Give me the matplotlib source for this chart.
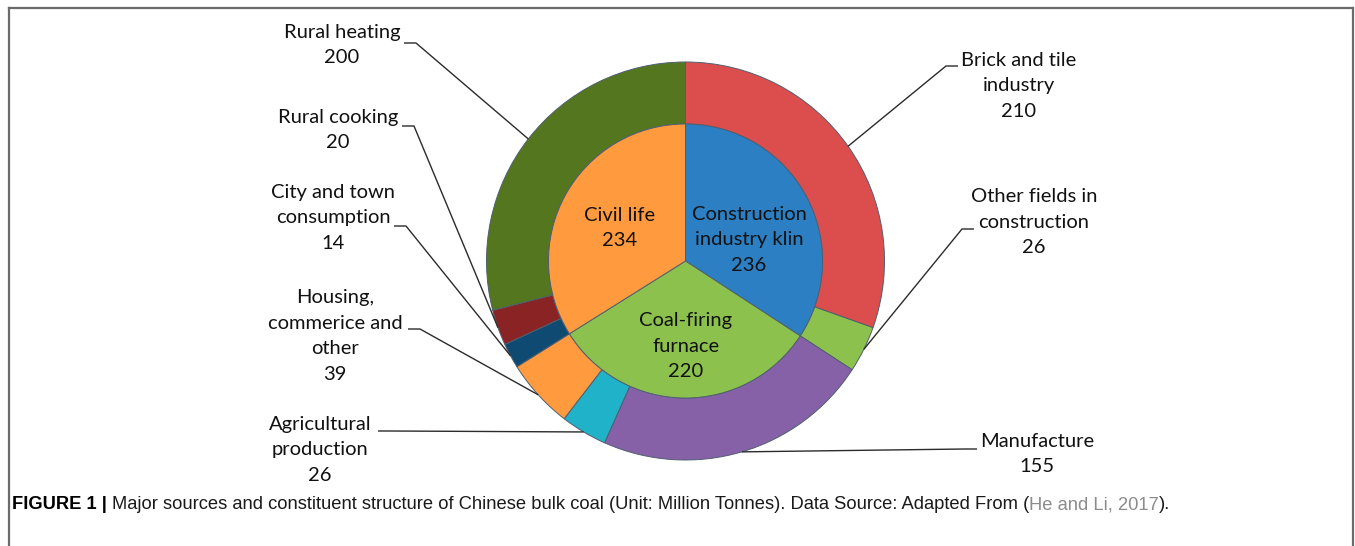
#!/usr/bin/env python3
"""Nested pie of Chinese bulk coal sources (Unit: million tonnes)."""

import matplotlib

matplotlib.use("Agg")
import matplotlib.pyplot as plt
import numpy as np
from matplotlib.lines import Line2D

# --- data -------------------------------------------------------------------
inner_labels = ["Construction\nindustry klin", "Coal-firing\nfurnace", "Civil life"]
inner_values = [236, 220, 234]
inner_colors = ["#2b7fc2", "#8dc14e", "#ff9a3f"]

outer_labels = [
    "Brick and tile\nindustry",
    "Other fields in\nconstruction",
    "Manufacture",
    "Agricultural\nproduction",
    "Housing,\ncommerice and\nother",
    "City and town\nconsumption",
    "Rural cooking",
    "Rural heating",
]
outer_values = [210, 26, 155, 26, 39, 14, 20, 200]
outer_colors = ["#db4e4d", "#8dc14e", "#8661a7", "#1fb2c9", "#ff9a3f", "#0f4a73", "#8a2424", "#54761f"]

# --- layout (pixel units, origin top-left) ---------------------------------
W, H = 1355, 546
CX, CY = 685.5, 261
R_OUT, R_IN = 199, 137

# inner label block centres
inner_pos = [(749, 240), (686, 346), (620, 228)]
# outer label block centre, tick start, tick end (tick is the short horizontal stub)
outer_layout = [
    ((1019, 86), (958, 66), (946, 66)),
    ((1034, 222), (974, 229), (962, 229)),
    ((1037, 454), (977, 449), (965, 449)),
    ((320, 450), (378, 431), (390, 431)),
    ((335, 336), (408, 329), (420, 329)),
    ((333, 218), (394, 226), (406, 226)),
    ((338, 130), (402, 126), (414, 126)),
    ((342, 45), (404, 43), (416, 43)),
]


def py(y):
    return H - y


fig = plt.figure(figsize=(W / 100, H / 100), dpi=100, facecolor="white")
ax = fig.add_axes([0, 0, 1, 1])

wedge_style = dict(edgecolor="#4f5f70", linewidth=0.7)
outer_wedges, _ = ax.pie(
    outer_values,
    radius=R_OUT,
    center=(CX, py(CY)),
    startangle=90,
    counterclock=False,
    colors=outer_colors,
    wedgeprops=dict(width=R_OUT - R_IN, **wedge_style),
)
inner_wedges, _ = ax.pie(
    inner_values,
    radius=R_IN,
    center=(CX, py(CY)),
    startangle=90,
    counterclock=False,
    colors=inner_colors,
    wedgeprops=wedge_style,
)
ax.set_xlim(0, W)
ax.set_ylim(0, H)
ax.set_aspect("equal")
ax.axis("off")

label_font = dict(family=["Lato", "DejaVu Sans"], fontsize=14.5, color="#111111")
spacing = 1.62

for label, value, (x, y) in zip(inner_labels, inner_values, inner_pos):
    ax.text(x, py(y), f"{label}\n{value}", ha="center", va="center", linespacing=spacing, **label_font)

for label, value, wedge, (center, tick_a, tick_b) in zip(outer_labels, outer_values, outer_wedges, outer_layout):
    ax.text(center[0], py(center[1]), f"{label}\n{value}", ha="center", va="center", linespacing=spacing, **label_font)
    mid = np.deg2rad((wedge.theta1 + wedge.theta2) / 2)
    end = (CX + R_OUT * np.cos(mid), py(CY) + R_OUT * np.sin(mid))
    ax.plot(
        [tick_a[0], tick_b[0], end[0]],
        [py(tick_a[1]), py(tick_b[1]), end[1]],
        color="#2b2b2b",
        linewidth=1.0,
        solid_capstyle="butt",
    )

# figure frame, open at the bottom
frame = dict(color="#6b6b6b", linewidth=1.6, transform=fig.transFigure)
fig.add_artist(Line2D([9 / W, 9 / W], [0, 1 - 8 / H], **frame))
fig.add_artist(Line2D([9 / W, 1353 / W], [1 - 8 / H, 1 - 8 / H], **frame))
fig.add_artist(Line2D([1353 / W, 1353 / W], [0, 1 - 8 / H], **frame))

# caption, drawn in pieces so the bold prefix and grey citation line up
caption_parts = [
    ("FIGURE 1 | ", "bold", "#000000"),
    ("Major sources and constituent structure of Chinese bulk coal (Unit: Million Tonnes). Data Source: Adapted From (", "normal", "#1a1a1a"),
    ("He and Li, 2017", "normal", "#8c8c8c"),
    (").", "normal", "#1a1a1a"),
]
renderer = fig.canvas.get_renderer()
x_px = 12
for text, weight, color in caption_parts:
    t = fig.text(
        x_px / W,
        1 - 509 / H,
        text,
        ha="left",
        va="baseline",
        fontsize=13.2,
        fontweight=weight,
        color=color,
        family=["Liberation Sans", "DejaVu Sans"],
    )
    x_px += t.get_window_extent(renderer).width

fig.savefig("out.png", dpi=100, facecolor="white")
